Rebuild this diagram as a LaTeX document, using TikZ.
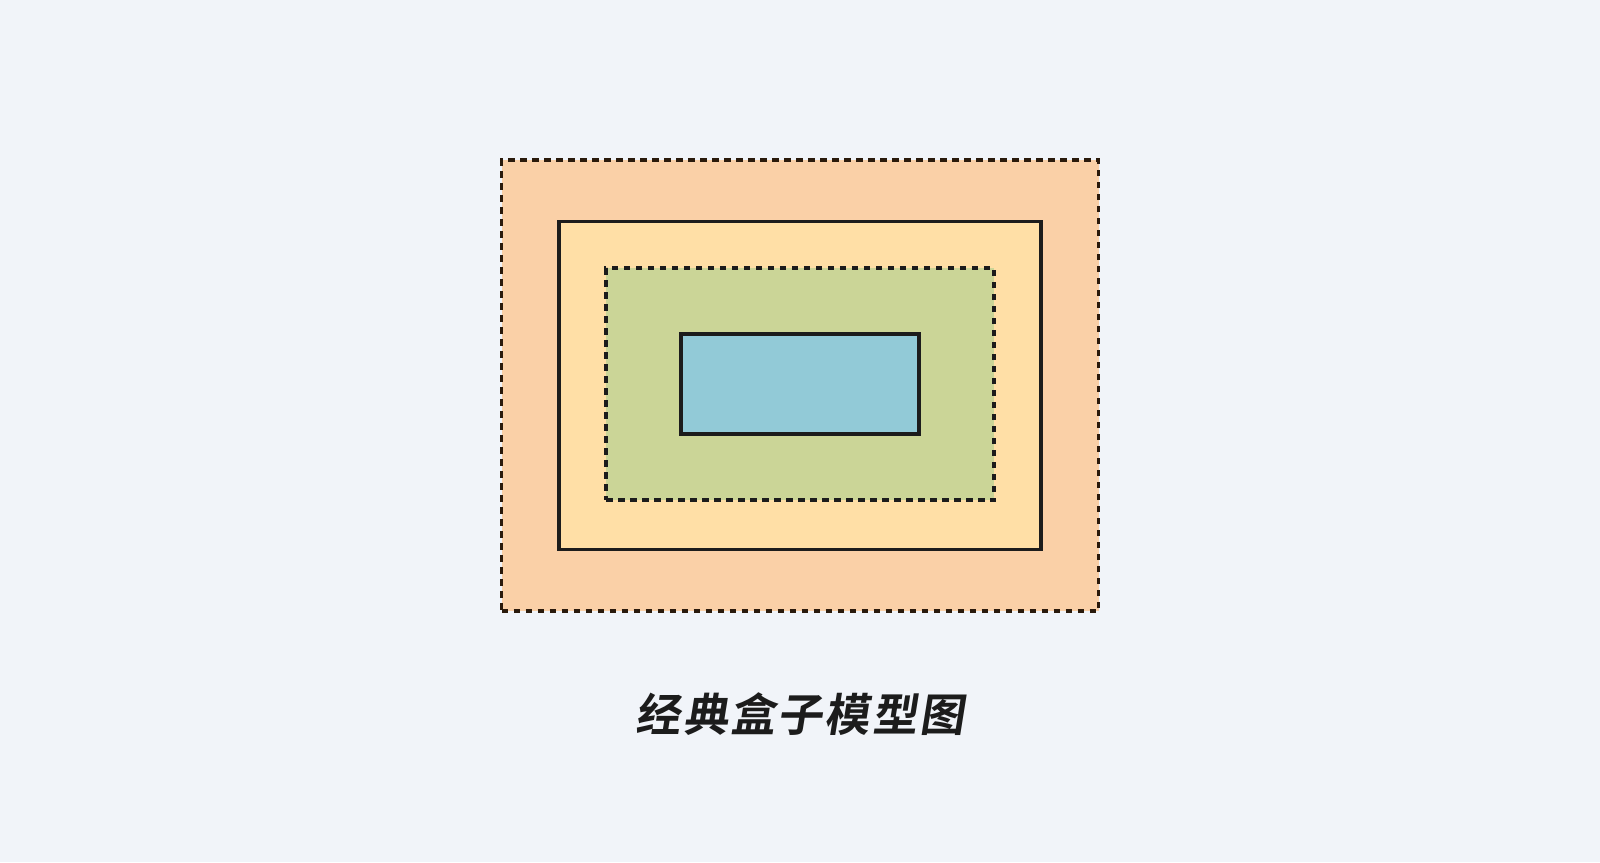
\documentclass[tikz,border=0pt]{standalone}
\usepackage{fontspec}
\newfontfamily\cjk[FakeSlant=0.16,LetterSpace=5,BoldFont={Noto Sans CJK SC Bold}]{Noto Sans CJK SC}
\definecolor{bg}{HTML}{F1F4F9}
\definecolor{margincol}{HTML}{FAD0A7}
\definecolor{bordercol}{HTML}{FFDFA6}
\definecolor{paddingcol}{HTML}{CBD597}
\definecolor{contentcol}{HTML}{92CAD7}
\definecolor{ink}{HTML}{1C1C1C}
\definecolor{dashink}{HTML}{2A1A0C}

\tikzstyle{layer} = [rectangle, inner sep=0pt, line width=3.5pt]
\tikzstyle{margin} = [layer, fill=margincol, draw=dashink, dash pattern=on 6.5pt off 5.5pt]
\tikzstyle{border} = [layer, fill=bordercol, draw=ink]
\tikzstyle{padding} = [layer, fill=paddingcol, draw=ink, dash pattern=on 6.5pt off 5.5pt]
\tikzstyle{content} = [layer, fill=contentcol, draw=ink]

\begin{document}
\begin{tikzpicture}[x=1pt,y=-1pt]
\fill[bg] (0,0) rectangle (1600,862);
\useasboundingbox (0,0) rectangle (1600,862);
\node [margin, minimum width=597pt, minimum height=451pt] (m) at (800,385.5) {};
\node [border, minimum width=482pt, minimum height=328pt] (b) at (m.center) {};
\node [padding, minimum width=388pt, minimum height=232pt] (p) at (800,384) {};
\node [content, minimum width=238pt, minimum height=100pt] (c) at (800,384) {};
\node [text=ink] (title) at (800,714)
	{\cjk\bfseries\fontsize{45}{50}\selectfont 经典盒子模型图};
\end{tikzpicture}
\end{document}
